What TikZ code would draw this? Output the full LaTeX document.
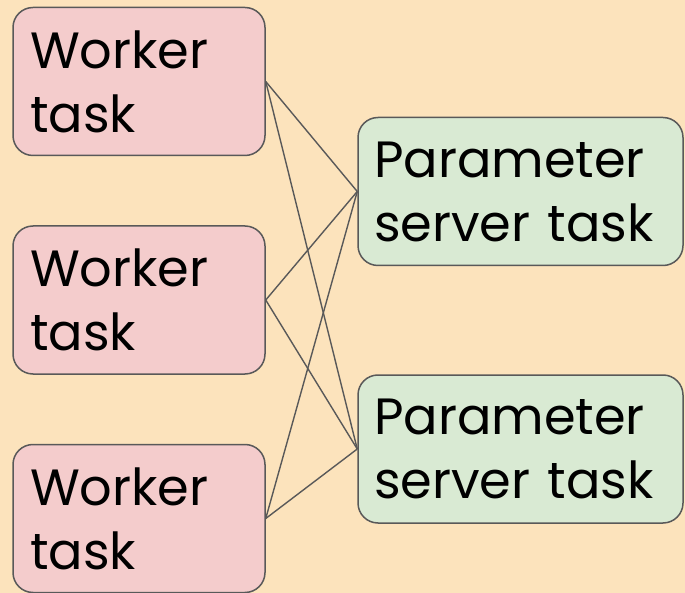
\documentclass[tikz,border=0pt]{standalone}
\usepackage{fontspec}
\setmainfont{Poppins}
\definecolor{bgorange}{HTML}{FCE3BC}
\definecolor{wpink}{HTML}{F4CCCC}
\definecolor{psgreen}{HTML}{D9EAD3}
\definecolor{edgegray}{HTML}{595959}
\tikzset{
  taskbox/.style={draw=edgegray, line width=1.5pt, rounded corners=20pt,
    minimum height=148pt, inner sep=0pt, align=left,
    font=\fontsize{51}{64}\selectfont},
  worker/.style={taskbox, fill=wpink, minimum width=252pt, text width=218pt},
  psbox/.style={taskbox, fill=psgreen, minimum width=325pt, text width=293pt},
  link/.style={draw=edgegray, line width=1.4pt}
}
\begin{document}
\begin{tikzpicture}[x=1pt, y=-1pt]
  \useasboundingbox (0,0) rectangle (685,593);
  \fill[bgorange] (0,0) rectangle (685,593);
  % worker tasks (left column)
  \node[worker] (w1) at (139,81.5) {Worker\\task};
  \node[worker] (w2) at (139,300) {Worker\\task};
  \node[worker] (w3) at (139,518.5) {Worker\\task};
  % parameter server tasks (right column)
  \node[psbox] (p1) at (520.5,191.5) {Parameter\\server task};
  \node[psbox] (p2) at (520.5,449) {Parameter\\server task};
  % every worker talks to every parameter server
  \foreach \w in {w1,w2,w3}{
    \foreach \p in {p1,p2}{
      \draw[link] (\w.east) -- (\p.west);
    }
  }
\end{tikzpicture}
\end{document}
